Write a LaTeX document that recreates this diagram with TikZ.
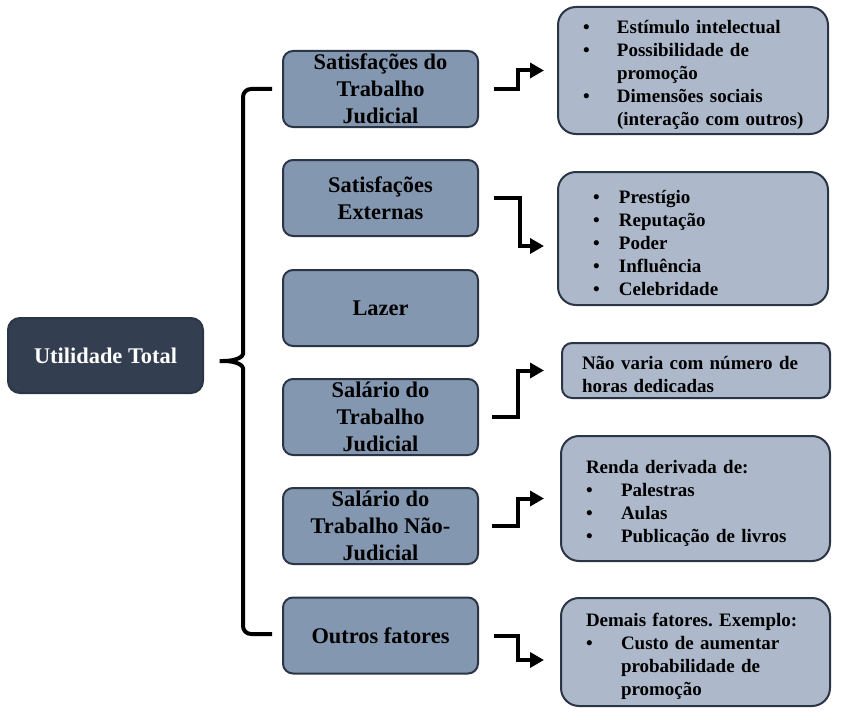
\documentclass[tikz,border=0pt]{standalone}
\usepackage{fontspec}
\setmainfont{Liberation Serif}
\usetikzlibrary{arrows.meta}
\definecolor{dkblue}{HTML}{333F50}
\definecolor{midblue}{HTML}{8497B0}
\definecolor{ltblue}{HTML}{ADB9CA}
\definecolor{edge}{HTML}{2B3545}
\newcommand{\bul}[2][34pt]{\makebox[#1][l]{\textbullet}\mbox{#2}}
\newcommand{\ind}[2][34pt]{\hspace*{#1}\mbox{#2}}
\frenchspacing

\begin{document}
\begin{tikzpicture}[x=1pt,y=-1pt,
  box/.style={draw=edge,line width=2pt,rounded corners=10pt,font=\fontsize{22.4}{27}\selectfont\bfseries,inner sep=0pt,minimum width=195pt,minimum height=76pt},
  mid/.style={box,fill=midblue,align=center},
  rbox/.style={draw=edge,line width=2pt,rounded corners=18pt,fill=ltblue,font=\fontsize{19}{23}\selectfont\bfseries,align=left,inner ysep=0pt,execute at begin node={\rule{0pt}{22pt}}},
  elbow/.style={line width=4pt,-{Triangle[length=14pt,width=15pt]}},
  brace/.style={line width=4pt,rounded corners=8pt}]
\useasboundingbox (0,0) rectangle (841,725);

% left and middle column
\node[box,fill=dkblue,text=white,minimum height=75pt,rounded corners=12pt] (total) at (105.5,355.5) {Utilidade Total};
\node[mid] (sat) at (380.5,89) {Satisfações do\\Trabalho\\Judicial};
\node[mid] (ext) at (380.5,198) {Satisfações\\Externas};
\node[mid] (lazer) at (380.5,308) {Lazer};
\node[mid] (sal) at (380.5,417) {Salário do\\Trabalho\\Judicial};
\node[mid] (salnj) at (380.5,526) {Salário do\\Trabalho Não-\\Judicial};
\node[mid] (outros) at (380.5,635.5) {Outros fatores};

% right column
\node[rbox,inner xsep=25pt,text width=220pt,minimum height=127pt] (rsat) at (693,70.5)
  {\bul{Estímulo intelectual}\\\bul{Possibilidade de}\\\ind{promoção}\\\bul{Dimensões sociais}\\\ind{(interação com outros)}};
\node[rbox,inner xsep=35pt,text width=200pt,minimum height=133pt] (rext) at (693,238.5)
  {\bul[26pt]{Prestígio}\\\bul[26pt]{Reputação}\\\bul[26pt]{Poder}\\\bul[26pt]{Influência}\\\bul[26pt]{Celebridade}};
\node[rbox,inner xsep=20pt,text width=228pt,minimum height=55pt,rounded corners=10pt] (rsal) at (696,370.5)
  {Não varia com número de\\horas dedicadas};
\node[rbox,inner xsep=25pt,text width=219pt,minimum height=125pt] (rsalnj) at (695.5,498.5)
  {Renda derivada de:\\\bul[35pt]{Palestras}\\\bul[35pt]{Aulas}\\\bul[35pt]{Publicação de livros}};
\node[rbox,inner xsep=25pt,text width=219pt,minimum height=108pt] (routros) at (695.5,652)
  {Demais fatores. Exemplo:\\\bul[35pt]{Custo de aumentar}\\\ind[35pt]{probabilidade de}\\\ind[35pt]{promoção}};

% brace
\draw[brace] (272,89) -- (243,89) -- (243,346) .. controls (243,356) and (238,361) .. (215,361)
  .. controls (238,361) and (243,366) .. (243,376) -- (243,634) -- (272,634);

% elbow arrows
\draw[elbow] ([xshift=15pt]sat.east) -- ++(24,0) |- ([xshift=-13pt]rsat.west);
\draw[elbow] ([xshift=15pt]ext.east) -- ++(26,0) |- ([xshift=-13pt,yshift=-7.5pt]rext.west);
\draw[elbow] ([xshift=13pt]sal.east) -- ++(26,0) |- ([xshift=-17pt]rsal.west);
\draw[elbow] ([xshift=13pt]salnj.east) -- ++(26,0) |- ([xshift=-16pt]rsalnj.west);
\draw[elbow] ([xshift=15pt]outros.east) -- ++(24,0) |- ([xshift=-16pt,yshift=-8pt]routros.west);
\end{tikzpicture}
\end{document}
